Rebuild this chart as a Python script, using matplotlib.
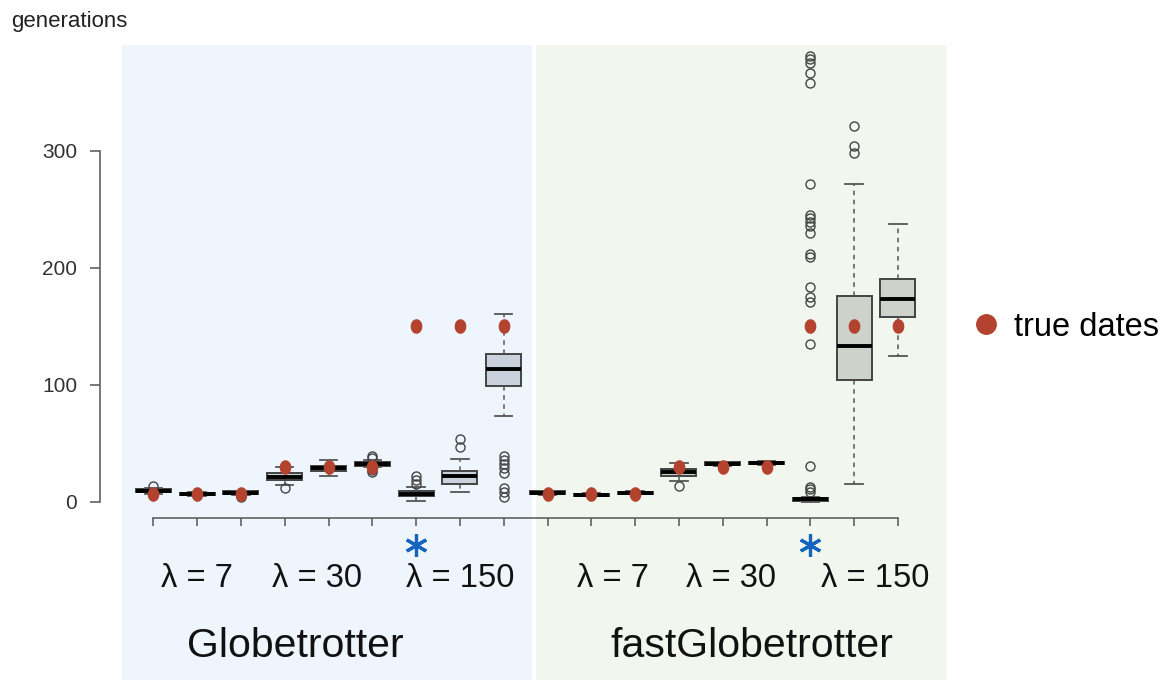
import matplotlib
matplotlib.use("Agg")
import matplotlib.pyplot as plt
import matplotlib.transforms as mtransforms
import numpy as np
from matplotlib.patches import Rectangle
from matplotlib.lines import Line2D

plt.rcParams['font.family'] = ['Liberation Sans', 'DejaVu Sans']

# two methods x three lambda values x three replicate settings = 18 boxes
methods = ["Globetrotter", "fastGlobetrotter"]
lambda_labels = ["λ = 7", "λ = 30", "λ = 150"] * 2
true_dates = [7, 7, 7, 30, 30, 30, 150, 150, 150,
              7, 7, 7, 30, 30, 30, 150, 150, 150]
starred = [7, 16]  # boxes flagged with an asterisk

q1 = [8.0, 5.5, 6.5, 18.8, 26.5, 30.2, 4.5, 15.1, 98.9,
      6.5, 5.0, 6.8, 22.0, 31.0, 31.8, 0.9, 104.0, 158.1]
med = [9.3, 6.3, 7.7, 21.5, 28.5, 32.2, 6.8, 22.2, 113.4,
       7.7, 6.0, 7.7, 25.1, 32.5, 33.1, 2.0, 133.1, 173.5]
q3 = [10.5, 7.3, 8.8, 24.5, 30.5, 33.8, 9.2, 26.5, 126.2,
      8.8, 7.0, 8.6, 27.9, 33.8, 34.3, 3.5, 175.8, 190.0]
whislo = [7.0, 4.8, 5.5, 14.3, 22.2, 29.5, 0.6, 8.5, 73.2,
          5.8, 4.5, 6.2, 18.0, 30.5, 31.0, 0.0, 14.9, 124.8]
whishi = [11.5, 8.0, 9.5, 29.5, 35.5, 35.5, 12.2, 36.5, 160.2,
          9.5, 7.5, 9.2, 32.8, 34.3, 35.0, 4.3, 271.2, 237.1]
fliers = [
    [13.4], [], [3.7], [11.4], [], [39.1, 37.4, 27.5, 25.6],
    [15.1, 18.5, 22.0], [47.0, 53.3],
    [39.1, 35.6, 32.2, 28.5, 24.3, 12.0, 8.5, 4.3],
    [], [], [], [13.4], [], [],
    [8.5, 10.5, 12.8, 30.5, 134.5, 171.0, 175.2, 183.8, 209.4, 212.0,
     229.4, 235.6, 239.3, 242.2, 245.0, 271.2, 358.1, 366.7, 375.0,
     378.3, 381.0],
    [297.8, 304.0, 321.0], [],
]

W, H = 1163, 680
fig = plt.figure(figsize=(W / 100, H / 100), dpi=100)

# shaded panels behind each method
for x0, x1, col in [(122, 532, '#eef5fd'), (536, 947, '#f1f7ee')]:
    fig.add_artist(Rectangle((x0 / W, 0), (x1 - x0) / W, 1 - 45 / H,
                             transform=fig.transFigure, facecolor=col,
                             edgecolor='none', zorder=0))

ax = fig.add_axes([100 / W, (H - 518) / H, 847 / W, 473 / H])
ax.set_facecolor('none')
ax.set_xlim(-0.217, 19.12)
ax.set_ylim(-13.93, 390.3)

pos = np.arange(1, 19)
stats = []
for i in range(18):
    stats.append(dict(med=med[i], q1=q1[i], q3=q3[i], whislo=whislo[i],
                      whishi=whishi[i], fliers=fliers[i]))

bp = ax.bxp(stats, positions=pos, widths=0.8, capwidths=0.4,
            patch_artist=True, manage_ticks=False,
            boxprops=dict(edgecolor='#444444', linewidth=1.4),
            medianprops=dict(color='black', linewidth=2.8),
            whiskerprops=dict(color='#555555', linewidth=1.1, linestyle=(0, (3, 3))),
            capprops=dict(color='#555555', linewidth=1.3),
            flierprops=dict(marker='o', markerfacecolor='none',
                            markeredgecolor='#444444', markersize=6.5,
                            markeredgewidth=1.0))
for i, box in enumerate(bp['boxes']):
    box.set_facecolor('#c9d1dc' if i < 9 else '#cdd3ca')

# slightly tall ellipse for the true-date markers
t = np.linspace(0, 2 * np.pi, 41)
ellipse = list(zip(0.78 * np.cos(t), np.sin(t)))
red = '#b3432f'
ax.plot(pos, true_dates, linestyle='none', marker=ellipse, markersize=9.5,
        color=red, zorder=5)

for s in ['top', 'right']:
    ax.spines[s].set_visible(False)
ax.spines['left'].set_bounds(0, 300)
ax.spines['bottom'].set_bounds(1, 18)
for s in ['left', 'bottom']:
    ax.spines[s].set_color('#555555')
    ax.spines[s].set_linewidth(1.1)
ax.set_yticks([0, 100, 200, 300])
ax.set_xticks(pos)
ax.set_xticklabels([])
ax.tick_params(axis='y', length=7.5, width=1.1, color='#555555', pad=9,
               labelsize=15, labelcolor='#333333')
ax.tick_params(axis='x', length=6, width=1.1, color='#555555')

fig.text(11 / W, 1 - 26.7 / H, 'generations', fontsize=16,
         color='#222222', va='baseline')

trans = mtransforms.blended_transform_factory(ax.transData, fig.transFigure)
lam_x = [1.99, 4.73, 8.0, 11.5, 14.2, 17.48]
for x, lab in zip(lam_x, lambda_labels):
    ax.text(x, 1 - 586.7 / H, lab, transform=trans, ha='center',
            va='baseline', fontsize=23.5, color='#111111')

# six-armed asterisks under the starred boxes
ax.plot(starred, [1 - 545 / H] * len(starred), transform=trans,
        linestyle='none', marker=(6, 2, 0), markersize=16,
        markeredgewidth=2.3, color='#1565c0', clip_on=False)

for x, name in zip([4.25, 14.67], methods):
    ax.text(x, 1 - 657 / H, name, transform=trans, ha='center',
            va='baseline', fontsize=29.5, color='#111111')

handle = Line2D([], [], linestyle='none', marker='o', markersize=14,
                color=red)
ax.legend([handle], ['true dates'], loc='center left',
          bbox_to_anchor=(970 / W, 1 - 327 / H),
          bbox_transform=fig.transFigure, frameon=False, fontsize=23.5,
          handlelength=1.0, handletextpad=0.35, borderpad=0,
          borderaxespad=0)

fig.savefig('out.png', dpi=100)
